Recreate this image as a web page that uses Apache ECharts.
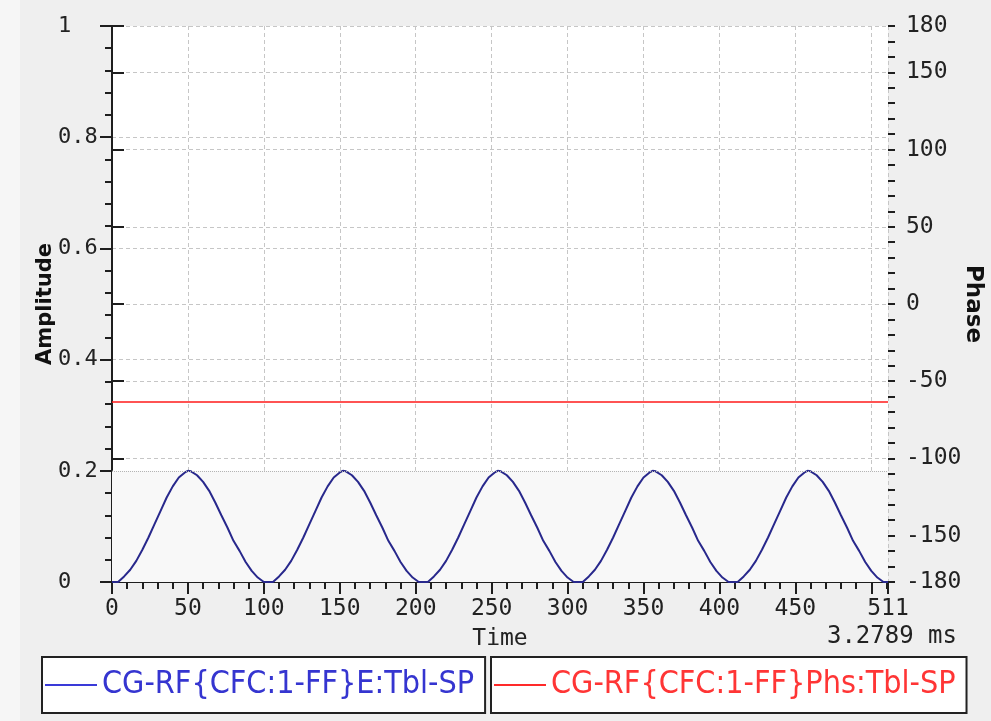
<!DOCTYPE html>
<html style="height: 100%">
   <head>
       <meta charset="utf-8">
   </head>
   <body style="height: 100%; margin: 0">
       <div id="container" style="height: 100%"></div>
       <script type="text/javascript" src="https://cdn.jsdelivr.net/npm/echarts/dist/echarts.min.js"></script>
       <script type="text/javascript">
var dom = document.getElementById("container");
var myChart = echarts.init(dom);
option = null;

// time samples (x axis, 0..511)
var times = [
    0, 4, 8, 12, 16, 20, 24, 28, 32, 36, 40, 44, 48, 50, 52, 56, 60, 64, 68, 72, 76, 80, 84, 88, 92, 96, 100,
    102, 106, 110, 114, 118, 122, 126, 130, 134, 138, 142, 146, 150, 152, 154, 158, 162, 166, 170, 174, 178, 182, 186, 190, 194, 198, 202,
    204, 208, 212, 216, 220, 224, 228, 232, 236, 240, 244, 248, 252, 254, 256, 260, 264, 268, 272, 276, 280, 284, 288, 292, 296, 300, 304,
    306, 310, 314, 318, 322, 326, 330, 334, 338, 342, 346, 350, 354, 356, 358, 362, 366, 370, 374, 378, 382, 386, 390, 394, 398, 402, 406,
    408, 412, 416, 420, 424, 428, 432, 436, 440, 444, 448, 452, 456, 458, 460, 464, 468, 472, 476, 480, 484, 488, 492, 496, 500, 504, 508,
    511
];
var amplitude = [
    0, 0, 0.01, 0.022, 0.038, 0.058, 0.08, 0.104, 0.128, 0.152, 0.172, 0.188, 0.197, 0.2, 0.199, 0.192, 0.18, 0.164, 0.143, 0.12, 0.098, 0.074, 0.056, 0.036, 0.02, 0.008, 0,
    0, 0, 0.01, 0.022, 0.038, 0.058, 0.08, 0.104, 0.128, 0.152, 0.172, 0.188, 0.197, 0.2, 0.199, 0.192, 0.18, 0.164, 0.143, 0.12, 0.098, 0.074, 0.056, 0.036, 0.02, 0.008, 0,
    0, 0, 0.01, 0.022, 0.038, 0.058, 0.08, 0.104, 0.128, 0.152, 0.172, 0.188, 0.197, 0.2, 0.199, 0.192, 0.18, 0.164, 0.143, 0.12, 0.098, 0.074, 0.056, 0.036, 0.02, 0.008, 0,
    0, 0, 0.01, 0.022, 0.038, 0.058, 0.08, 0.104, 0.128, 0.152, 0.172, 0.188, 0.197, 0.2, 0.199, 0.192, 0.18, 0.164, 0.143, 0.12, 0.098, 0.074, 0.056, 0.036, 0.02, 0.008, 0,
    0, 0, 0.01, 0.022, 0.038, 0.058, 0.08, 0.104, 0.128, 0.152, 0.172, 0.188, 0.197, 0.2, 0.199, 0.192, 0.18, 0.164, 0.143, 0.12, 0.098, 0.074, 0.056, 0.036, 0.02, 0.008, 0,
    0
];
var phaseTimes = [0, 511];
var phase = [-63.5, -63.5];

var phaseLabels = [-180, -150, -100, -50, 0, 50, 100, 150, 180];
var seriesNames = ['CG-RF{CFC:1-FF}E:Tbl-SP', 'CG-RF{CFC:1-FF}Phs:Tbl-SP'];

var ampData = times.map(function (t, i) { return [t, amplitude[i]]; });
var phaseData = phaseTimes.map(function (t, i) { return [t, phase[i]]; });

var mono = 'DejaVu Sans Mono';
var axisColor = '#1e1e1e';
var gridLine = {show: true, lineStyle: {color: '#c6c6c6', type: [4, 3], width: 1}};

option = {
    backgroundColor: '#efefef',
    animation: false,
    grid: {
        left: 112, top: 26, width: 776, height: 556,
        outerBoundsMode: 'none', containLabel: false,
        show: true, backgroundColor: '#fff', borderWidth: 0
    },
    graphic: [
        {type: 'rect', left: 0, top: 0, shape: {width: 20, height: 721}, style: {fill: '#f6f6f6'}, z: -10},
        {type: 'text', right: 34, top: 625, style: {text: '3.2789 ms', font: '24px "DejaVu Sans Mono"', fill: '#222'}}
    ],
    xAxis: [
        {
            type: 'value', min: 0, max: 511, interval: 50,
            name: 'Time', nameLocation: 'middle', nameGap: 46,
            nameTextStyle: {fontFamily: mono, fontSize: 23, color: '#222'},
            axisLine: {show: true, onZero: false, lineStyle: {color: axisColor, width: 2}},
            axisTick: {show: true, length: 12, lineStyle: {color: axisColor, width: 2}},
            axisLabel: {
                margin: 16, fontFamily: mono, fontSize: 23, color: '#222', showMaxLabel: true,
                formatter: function (v) { return v === 500 ? '' : String(v); }
            },
            splitLine: gridLine
        },
        {
            type: 'value', min: 0, max: 511, interval: 10, position: 'bottom',
            axisLine: {show: false},
            axisTick: {show: true, length: 7, lineStyle: {color: axisColor, width: 2}},
            axisLabel: {show: false},
            splitLine: {show: false}
        }
    ],
    yAxis: [
        {
            type: 'value', min: 0, max: 1, interval: 0.2, position: 'left',
            name: 'Amplitude', nameLocation: 'middle', nameGap: 56, nameRotate: 90, nameMoveOverlap: false,
            nameTextStyle: {fontFamily: 'DejaVu Sans', fontWeight: 'bold', fontSize: 21, color: '#111'},
            axisLine: {show: true, lineStyle: {color: axisColor, width: 2}},
            axisTick: {show: true, length: 12, lineStyle: {color: axisColor, width: 2}},
            minorTick: {show: true, splitNumber: 5, length: 7, lineStyle: {color: axisColor, width: 2}},
            axisLabel: {margin: 54, align: 'left', fontFamily: mono, fontSize: 22, color: '#222'},
            splitLine: gridLine
        },
        {
            type: 'value', min: -180, max: 180, position: 'right',
            name: 'Phase', nameLocation: 'middle', nameGap: 73, nameRotate: -90, nameMoveOverlap: false,
            nameTextStyle: {fontFamily: 'DejaVu Sans', fontWeight: 'bold', fontSize: 23, color: '#111'},
            axisLine: {show: true, lineStyle: {color: axisColor, width: 2}},
            axisTick: {show: true, length: 12, customValues: phaseLabels, lineStyle: {color: axisColor, width: 2}},
            axisLabel: {margin: 18, fontFamily: mono, fontSize: 23, color: '#222', customValues: phaseLabels},
            splitLine: gridLine
        },
        {
            type: 'value', min: -180, max: 180, interval: 10, position: 'right',
            axisLine: {show: false},
            axisTick: {show: true, length: 7, lineStyle: {color: axisColor, width: 2}},
            axisLabel: {show: false},
            splitLine: {show: false}
        }
    ],
    legend: [
        {
            left: 42, top: 657, orient: 'horizontal',
            backgroundColor: '#fff', borderColor: '#222', borderWidth: 2,
            padding: [12, 11, 12, 3],
            itemWidth: 52, itemHeight: 2, icon: 'rect', selectedMode: false,
            textStyle: {fontFamily: 'DejaVu Sans Condensed', fontSize: 32, color: '#3535d0'},
            data: [{name: seriesNames[0], itemStyle: {color: '#3a3ad8'}}]
        },
        {
            left: 491, top: 657, orient: 'horizontal',
            backgroundColor: '#fff', borderColor: '#222', borderWidth: 2,
            padding: [12, 11, 12, 3],
            itemWidth: 52, itemHeight: 2, icon: 'rect', selectedMode: false,
            textStyle: {fontFamily: 'DejaVu Sans Condensed', fontSize: 32, color: '#ff3535'},
            data: [{name: seriesNames[1], itemStyle: {color: '#ff2a2a'}}]
        }
    ],
    series: [
        {
            name: seriesNames[0],
            type: 'line',
            xAxisIndex: 0, yAxisIndex: 0,
            showSymbol: false,
            lineStyle: {color: '#28288c', width: 2},
            itemStyle: {color: '#28288c'},
            data: ampData,
            markArea: {
                silent: true,
                itemStyle: {color: '#f8f8f8'},
                data: [[{yAxis: 0}, {yAxis: 0.2}]]
            },
            markLine: {
                silent: true, symbol: 'none', label: {show: false},
                lineStyle: {color: '#b4b4b4', type: 'dotted', width: 1},
                data: [{yAxis: 0.2}]
            }
        },
        {
            name: seriesNames[1],
            type: 'line',
            xAxisIndex: 0, yAxisIndex: 1,
            showSymbol: false,
            lineStyle: {color: '#ff1a1a', width: 1.5},
            itemStyle: {color: '#ff1a1a'},
            data: phaseData
        }
    ]
};

if (option && typeof option === "object") {
    myChart.setOption(option, true);
}
       </script>
   </body>
</html>
